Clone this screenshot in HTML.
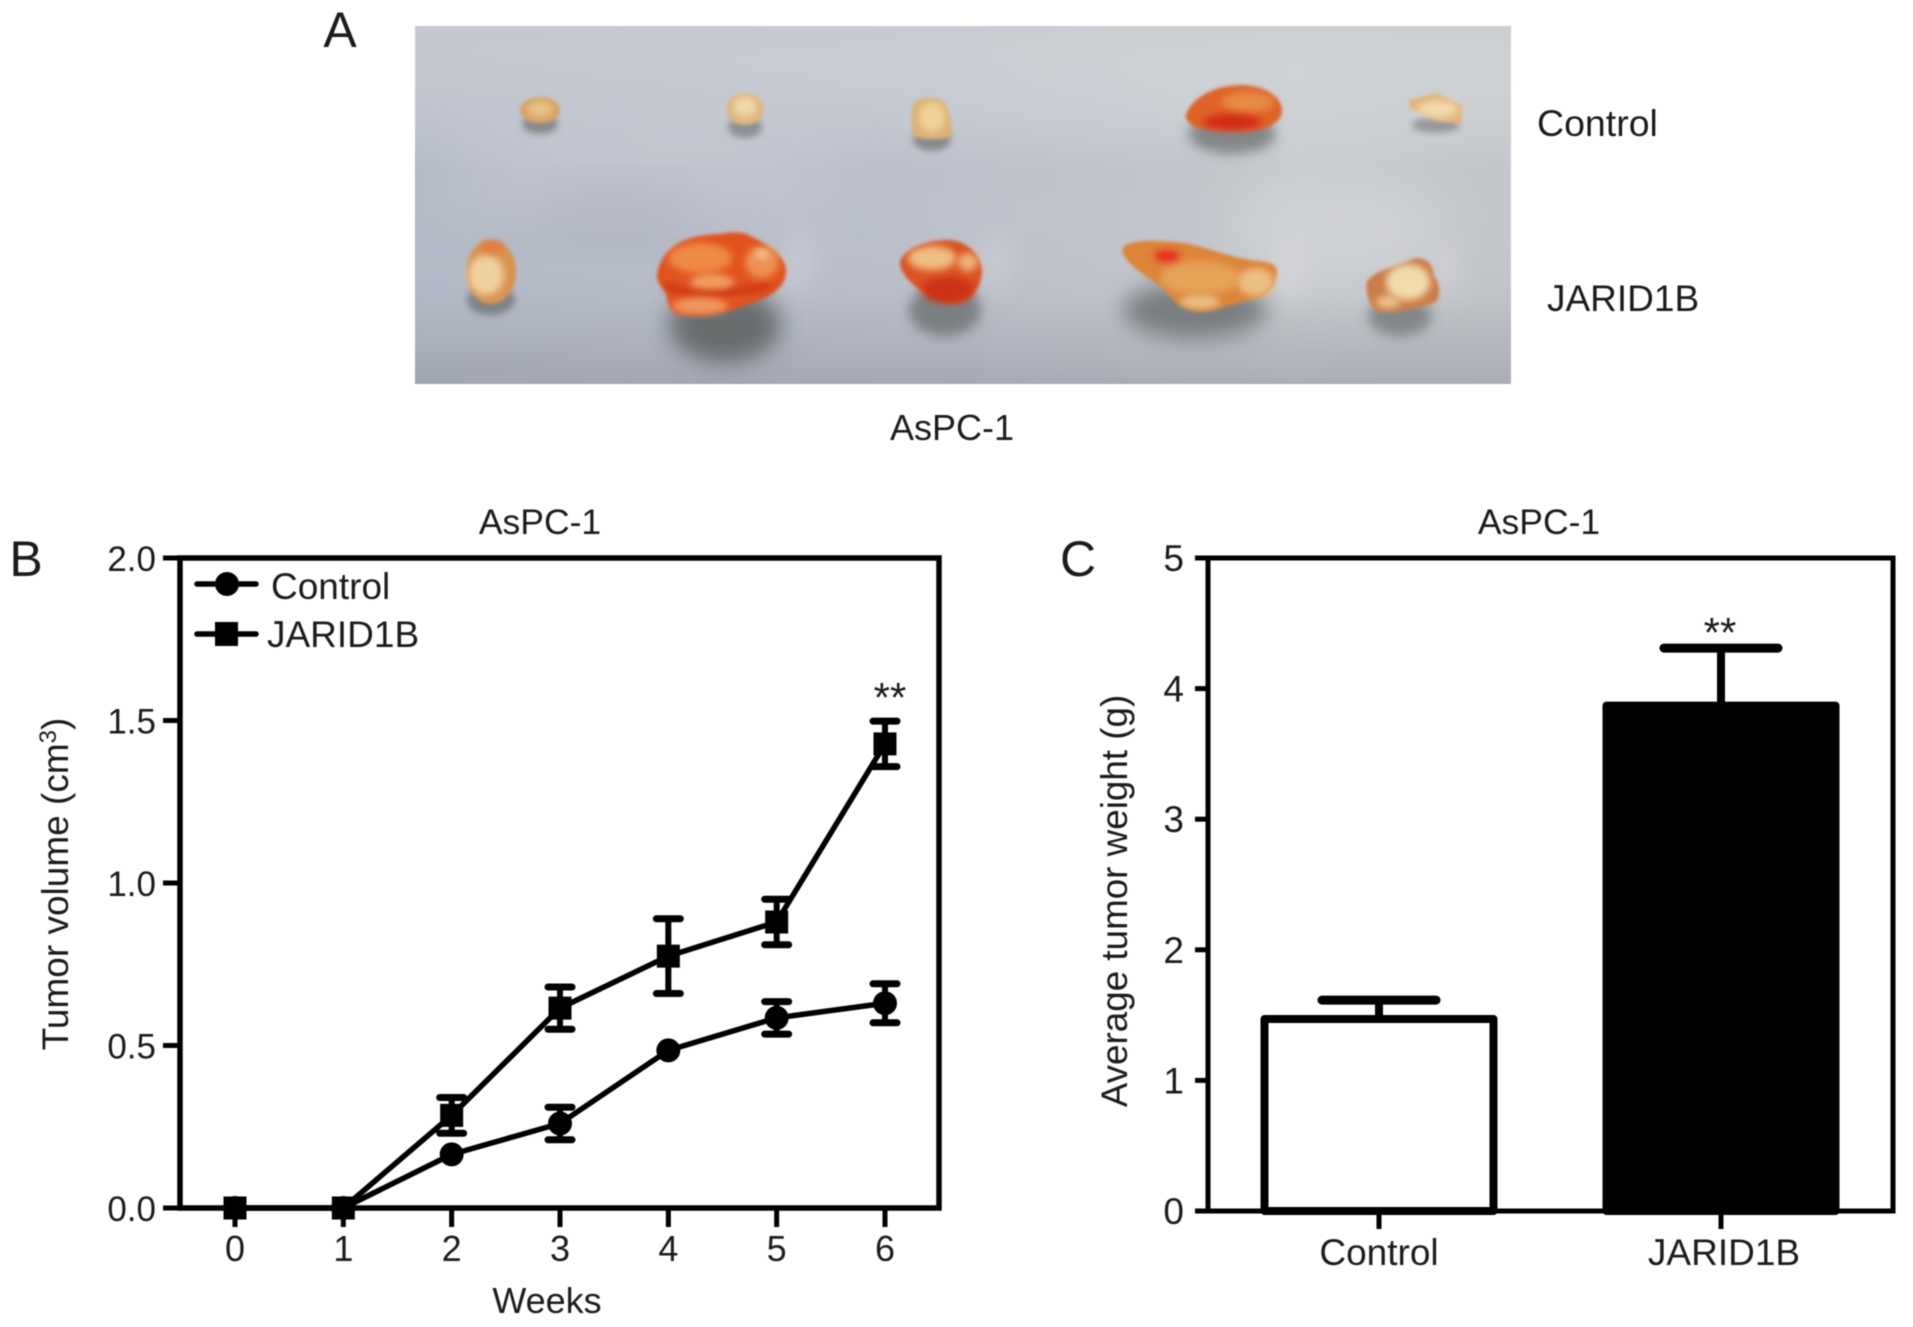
<!DOCTYPE html>
<html lang="en">
<head>
<meta charset="utf-8">
<title>AsPC-1 tumor figure</title>
<style>
html,body{margin:0;padding:0;background:#fff;width:1913px;height:1327px;overflow:hidden}
svg{display:block;filter:blur(.55px)}
text{font-family:"Liberation Sans",sans-serif;fill:#1c1c1c}
</style>
</head>
<body>
<svg id="fig" xmlns="http://www.w3.org/2000/svg" width="1913" height="1327" viewBox="0 0 1913 1327">
<defs>
<linearGradient id="bgH" x1="0" x2="1" y1="0" y2="0">
<stop offset="0" stop-color="#b4bac7"/><stop offset=".45" stop-color="#bbc0cb"/><stop offset=".8" stop-color="#c5c9cd"/><stop offset="1" stop-color="#c3c6ca"/>
</linearGradient>
<linearGradient id="bgV" x1="0" x2="0" y1="0" y2="1">
<stop offset="0" stop-color="#d4d6d6" stop-opacity=".5"/><stop offset=".4" stop-color="#ffffff" stop-opacity="0"/><stop offset=".75" stop-color="#8f929c" stop-opacity=".05"/><stop offset="1" stop-color="#8a8d99" stop-opacity=".45"/>
</linearGradient>
<filter id="b1" x="-20%" y="-20%" width="140%" height="140%"><feGaussianBlur stdDeviation="1.5"/></filter>
<filter id="b3" x="-40%" y="-40%" width="180%" height="180%"><feGaussianBlur stdDeviation="3.5"/></filter>
<filter id="b6" x="-60%" y="-60%" width="220%" height="220%"><feGaussianBlur stdDeviation="6"/></filter>
<filter id="b10" x="-60%" y="-60%" width="220%" height="220%"><feGaussianBlur stdDeviation="11"/></filter>
<filter id="b30" x="-60%" y="-60%" width="220%" height="220%"><feGaussianBlur stdDeviation="30"/></filter>
<clipPath id="photoClip"><rect x="415" y="26" width="1096" height="358"/></clipPath>
</defs>

<text x="340" y="47" font-size="50" text-anchor="middle">A</text>

<g clip-path="url(#photoClip)">
<rect x="415" y="26" width="1096" height="358" fill="url(#bgH)"/>
<rect x="415" y="26" width="1096" height="358" fill="url(#bgV)"/>
<ellipse cx="1340" cy="230" rx="110" ry="60" fill="#dcdcde" opacity=".45" filter="url(#b30)"/>
<ellipse cx="640" cy="170" rx="200" ry="30" fill="#d4d6da" opacity=".5" filter="url(#b30)"/>
<ellipse cx="620" cy="215" rx="90" ry="22" fill="#a4a7b6" opacity=".5" filter="url(#b30)"/>
<g fill="#e2dde1" opacity=".32">
<ellipse cx="798" cy="262" rx="18" ry="32" filter="url(#b10)"/>
<ellipse cx="996" cy="262" rx="18" ry="28" filter="url(#b10)"/>
<ellipse cx="1288" cy="272" rx="20" ry="30" filter="url(#b10)"/>
<ellipse cx="1448" cy="270" rx="16" ry="24" filter="url(#b10)"/>
</g>

<g fill="#555a58">
<ellipse cx="540" cy="124" rx="18" ry="10" opacity=".55" filter="url(#b3)"/>
<ellipse cx="745" cy="127" rx="17" ry="11" opacity=".5" filter="url(#b3)"/>
<ellipse cx="932" cy="139" rx="19" ry="12" opacity=".55" filter="url(#b3)"/>
<ellipse cx="1232" cy="134" rx="44" ry="20" opacity=".6" filter="url(#b6)"/>
<ellipse cx="1436" cy="125" rx="24" ry="8" opacity=".45" filter="url(#b3)"/>
<ellipse cx="491" cy="300" rx="24" ry="15" opacity=".55" filter="url(#b3)"/>
<ellipse cx="725" cy="325" rx="56" ry="38" opacity=".78" filter="url(#b10)"/>
<ellipse cx="945" cy="310" rx="36" ry="26" opacity=".6" filter="url(#b6)"/>
<ellipse cx="1195" cy="310" rx="72" ry="28" opacity=".65" filter="url(#b10)"/>
<ellipse cx="1400" cy="316" rx="32" ry="20" opacity=".55" filter="url(#b6)"/>
</g>

<g>
<g filter="url(#b1)">
<ellipse cx="540" cy="110" rx="20" ry="13" fill="#d6a05e"/><ellipse cx="540" cy="109" rx="13" ry="8" fill="#e6c48a" filter="url(#b3)"/>
</g>
<g filter="url(#b1)">
<ellipse cx="745" cy="109" rx="19" ry="16" fill="#dcb67d"/><ellipse cx="745" cy="107" rx="12" ry="10" fill="#eed8ac" filter="url(#b3)"/>
</g>
<g filter="url(#b1)">
<path d="M913 105 C918 95 942 95 946 105 C952 118 953 132 950 137 C940 140 922 140 913 136 C911 125 911 113 913 105Z" fill="#dcb272"/>
<ellipse cx="932" cy="117" rx="13" ry="15" fill="#eed39a" filter="url(#b3)"/>
</g>
<g filter="url(#b1)">
<path d="M1186 115 C1192 98 1212 86 1240 85 C1265 85 1283 97 1282 112 C1280 124 1265 130 1250 131 C1230 133 1210 131 1198 128 C1190 125 1185 120 1186 115Z" fill="#df6428"/>
<ellipse cx="1248" cy="102" rx="26" ry="10" fill="#e68a45" filter="url(#b3)"/>
<ellipse cx="1232" cy="122" rx="30" ry="8" fill="#d22c18" filter="url(#b3)"/>
</g>
<g filter="url(#b1)">
<path d="M1409 100 L1436 93 L1462 105 L1461 124 L1438 121 L1410 108Z" fill="#e3b478"/>
<ellipse cx="1438" cy="109" rx="20" ry="8" fill="#f3dcae" filter="url(#b3)"/>
</g>
</g>

<g>
<g filter="url(#b1)">
<ellipse cx="491" cy="272" rx="25" ry="32" fill="#da9250"/><ellipse cx="486" cy="275" rx="18" ry="20" fill="#eed19f" filter="url(#b3)"/>
<ellipse cx="492" cy="247" rx="12" ry="6" fill="#e37a3c" filter="url(#b3)"/>
</g>
<g filter="url(#b1)">
<path d="M657 276 C660 250 680 235 720 234 C735 231 745 232 752 237 C770 245 787 258 786 272 C785 290 765 300 745 305 C725 315 695 318 675 314 C665 305 668 295 664 290 C660 285 657 282 657 276Z" fill="#e2521e"/>
<ellipse cx="700" cy="258" rx="32" ry="15" fill="#ee8a45" filter="url(#b3)"/>
<ellipse cx="762" cy="262" rx="17" ry="16" fill="#ec9252" filter="url(#b3)"/>
<ellipse cx="712" cy="283" rx="22" ry="9" fill="#f0a060" filter="url(#b3)"/>
<ellipse cx="762" cy="254" rx="7" ry="4" fill="#f4cfa4" filter="url(#b3)"/>
<path d="M665 285 C690 298 730 295 770 285" fill="none" stroke="#cb3514" stroke-width="7" filter="url(#b3)"/>
<ellipse cx="700" cy="306" rx="28" ry="8" fill="#ef9a60" filter="url(#b3)"/>
</g>
<g filter="url(#b1)">
<path d="M900 262 C904 248 925 240 948 240 C968 241 982 255 982 272 C981 290 968 305 950 304 C930 300 900 280 900 262Z" fill="#dc5222"/>
<ellipse cx="932" cy="258" rx="24" ry="12" fill="#eec082" filter="url(#b3)"/>
<ellipse cx="968" cy="262" rx="10" ry="9" fill="#ecb27a" filter="url(#b3)"/>
<ellipse cx="948" cy="290" rx="26" ry="13" fill="#cc3018" filter="url(#b3)"/>
</g>
<g filter="url(#b1)">
<path d="M1122 250 C1125 241 1145 239 1175 242 C1200 244 1225 256 1250 260 C1265 262 1277 262 1277 272 C1276 290 1265 298 1250 300 C1230 304 1215 312 1198 312 C1185 310 1172 302 1165 290 C1150 278 1125 265 1122 250Z" fill="#dd8438"/>
<ellipse cx="1200" cy="278" rx="40" ry="17" fill="#e6a258" filter="url(#b3)"/>
<ellipse cx="1256" cy="282" rx="18" ry="14" fill="#ecc084" filter="url(#b3)"/>
<ellipse cx="1200" cy="302" rx="20" ry="6" fill="#eac48a" filter="url(#b3)"/>
<ellipse cx="1167" cy="256" rx="13" ry="6" fill="#e8261a" filter="url(#b3)"/>
</g>
<g filter="url(#b1)">
<path d="M1367 282 C1372 272 1395 266 1415 258 C1425 258 1432 262 1434 275 C1440 285 1441 295 1436 302 C1420 308 1395 313 1378 312 C1369 305 1365 292 1367 282Z" fill="#cc7c46"/>
<ellipse cx="1408" cy="282" rx="22" ry="18" fill="#f1dcae" filter="url(#b3)"/>
<ellipse cx="1388" cy="302" rx="12" ry="6" fill="#ecc68e" filter="url(#b3)"/>
</g>
</g>
</g>

<text x="1537" y="136" font-size="37.5">Control</text>
<text x="1547" y="311" font-size="37">JARID1B</text>
<text x="952" y="440" font-size="36" text-anchor="middle">AsPC-1</text>

<text x="26" y="576" font-size="50" text-anchor="middle">B</text>
<text x="1078" y="576" font-size="50" text-anchor="middle">C</text>

<g id="chartB"></g>
<g id="chartC"></g>
</svg>

<script>
// Panel B data
const weeks = [0, 1, 2, 3, 4, 5, 6];
const controlVolume = [0, 0, 0.165, 0.26, 0.485, 0.585, 0.63];
const controlVolumeErr = [0, 0, 0, 0.05, 0, 0.05, 0.06];
const jaridVolume = [0, 0, 0.285, 0.615, 0.775, 0.88, 1.428];
const jaridVolumeErr = [0, 0, 0.055, 0.065, 0.115, 0.07, 0.07];
const volumeTicks = [0, 0.5, 1, 1.5, 2];
const volumeTickLabels = ['0.0', '0.5', '1.0', '1.5', '2.0'];

// Panel C data
const weightCategories = ['Control', 'JARID1B'];
const weightValues = [1.47, 3.87];
const weightErrs = [0.145, 0.44];
const weightTicks = [0, 1, 2, 3, 4, 5];
const weightSignificance = ['', '**'];

const NS = 'http://www.w3.org/2000/svg';
function mk(tag, attrs, parent, txt) {
  const el = document.createElementNS(NS, tag);
  for (const k in attrs) el.setAttribute(k, attrs[k]);
  if (txt !== undefined) el.textContent = txt;
  parent.appendChild(el);
  return el;
}
let el;

/* ---------- Panel B ---------- */
const gB = document.getElementById('chartB');
const bBox = {l: 180, r: 939, t: 558, b: 1208};
const bx = w => 235 + (w - weeks[0]) * (885 - 235) / (weeks[weeks.length - 1] - weeks[0]);
const by = v => bBox.b - (v / 2) * (bBox.b - bBox.t);

el = mk('text', {x: 540, y: 534, 'font-size': 35.5, 'text-anchor': 'middle'}, gB, 'AsPC-1');



el = mk('rect', {x: bBox.l, y: bBox.t, width: bBox.r - bBox.l, height: bBox.b - bBox.t, fill: 'none', stroke: '#000', 'stroke-width': 5.5}, gB);



volumeTicks.forEach((v, i) => {
  el = mk('line', {x1: 163, x2: bBox.l, y1: by(v), y2: by(v), stroke: '#000', 'stroke-width': 5}, gB);
  
  
  el = mk('text', {x: 156, y: by(v) + 13, 'font-size': 35, 'text-anchor': 'end'}, gB, volumeTickLabels[i]);
  
  
});
weeks.forEach(w => {
  el = mk('line', {x1: bx(w), x2: bx(w), y1: bBox.b, y2: 1227, stroke: '#000', 'stroke-width': 5}, gB);
  
  
  el = mk('text', {x: bx(w), y: 1261, 'font-size': 36, 'text-anchor': 'middle'}, gB, String(w));
  
  
});

el = mk('text', {x: 547, y: 1313, 'font-size': 36, 'text-anchor': 'middle'}, gB, 'Weeks');



el = mk('text', {x: 68, y: 884, 'font-size': 37, 'text-anchor': 'middle', transform: 'rotate(-90 68 884)'}, gB);


mk('tspan', {}, el, 'Tumor volume (cm');
mk('tspan', {dy: -12, 'font-size': 24}, el, '3');
mk('tspan', {dy: 12}, el, ')');

function drawSeries(name, vals, errs, shape) {
  const g = mk('g', {}, gB);
  
  
  const pts = weeks.map((w, i) => bx(w) + ',' + by(vals[i])).join(' ');
  el = mk('polyline', {points: pts, fill: 'none', stroke: '#000', 'stroke-width': 5.5, 'stroke-linejoin': 'round'}, g);
  
  
  weeks.forEach((w, i) => {
    const x = bx(w), y = by(vals[i]);
    if (errs[i] > 0) {
      const yt = by(vals[i] + errs[i]), yb = by(vals[i] - errs[i]);
      el = mk('path', {d: `M${x} ${yt}V${yb}`, fill: 'none', stroke: '#000', 'stroke-width': 6}, g);
      
      
      el = mk('path', {d: `M${x - 12} ${yt}H${x + 12}M${x - 12} ${yb}H${x + 12}`, fill: 'none', stroke: '#000', 'stroke-width': 7, 'stroke-linecap': 'round'}, g);
      
      
    }
    if (shape === 'circle') {
      el = mk('circle', {cx: x, cy: y, r: 12, fill: '#000'}, g);
    } else {
      el = mk('rect', {x: x - 11.5, y: y - 11.5, width: 23, height: 23, fill: '#000'}, g);
    }
    
    
  });
}
drawSeries('control', controlVolume, controlVolumeErr, 'circle');
drawSeries('jarid1b', jaridVolume, jaridVolumeErr, 'square');

el = mk('text', {x: bx(6) + 5, y: by(jaridVolume[6] + jaridVolumeErr[6]) - 9, 'font-size': 42, 'text-anchor': 'middle'}, gB, '**');



// legend
const legG = mk('g', {}, gB);



el = mk('line', {x1: 197, x2: 256, y1: 584, y2: 584, stroke: '#000', 'stroke-width': 5.5, 'stroke-linecap': 'round'}, legG);


el = mk('circle', {cx: 227, cy: 584, r: 12, fill: '#000'}, legG);


el = mk('text', {x: 271, y: 599, 'font-size': 37}, legG, 'Control');



el = mk('line', {x1: 197, x2: 256, y1: 634, y2: 634, stroke: '#000', 'stroke-width': 5.5, 'stroke-linecap': 'round'}, legG);


el = mk('rect', {x: 215, y: 622, width: 23, height: 24, fill: '#000'}, legG);


el = mk('text', {x: 267, y: 647, 'font-size': 37}, legG, 'JARID1B');



/* ---------- Panel C ---------- */
const gC = document.getElementById('chartC');
const cBox = {l: 1208, r: 1893, t: 558, b: 1211};
const cy = v => cBox.b - (v / 5) * (cBox.b - cBox.t);
const cx = i => 1379 + i * 342;
const barHalf = 114.5, capHalf = 57;

el = mk('text', {x: 1539, y: 534, 'font-size': 35.5, 'text-anchor': 'middle'}, gC, 'AsPC-1');



el = mk('rect', {x: cBox.l, y: cBox.t, width: cBox.r - cBox.l, height: cBox.b - cBox.t, fill: 'none', stroke: '#000', 'stroke-width': 5}, gC);



weightTicks.forEach(v => {
  el = mk('line', {x1: 1195, x2: cBox.l, y1: cy(v), y2: cy(v), stroke: '#000', 'stroke-width': 5}, gC);
  
  
  el = mk('text', {x: 1184, y: cy(v) + 13, 'font-size': 37, 'text-anchor': 'end'}, gC, String(v));
  
  
});

el = mk('text', {x: 1127, y: 901, 'font-size': 36.8, 'text-anchor': 'middle', transform: 'rotate(-90 1127 901)'}, gC, 'Average tumor weight (g)');



weightCategories.forEach((c, i) => {
  const x = cx(i);
  el = mk('line', {x1: x, x2: x, y1: cBox.b, y2: 1229, stroke: '#000', 'stroke-width': 5}, gC);
  
  
  el = mk('text', {x: x + (i ? 3 : 0), y: 1265, 'font-size': 37, 'text-anchor': 'middle'}, gC, c);
  
  

  const yTop = cy(weightValues[i]), yErr = cy(weightValues[i] + weightErrs[i]);
  el = mk('path', {d: `M${x} ${yTop}V${yErr}`, fill: 'none', stroke: '#000', 'stroke-width': 8}, gC);
  
  
  el = mk('path', {d: `M${x - capHalf} ${yErr}H${x + capHalf}`, fill: 'none', stroke: '#000', 'stroke-width': 9, 'stroke-linecap': 'round'}, gC);
  
  

  el = mk('rect', {x: x - barHalf, y: yTop, width: barHalf * 2, height: cBox.b - yTop, fill: i ? '#000' : '#fff', stroke: '#000', 'stroke-width': 8, 'stroke-linejoin': 'round'}, gC);
  
  

  if (weightSignificance[i]) {
    el = mk('text', {x: x - 1, y: yErr - 1, 'font-size': 42, 'text-anchor': 'middle'}, gC, weightSignificance[i]);
    
    
  }
});
</script>
</body>
</html>
